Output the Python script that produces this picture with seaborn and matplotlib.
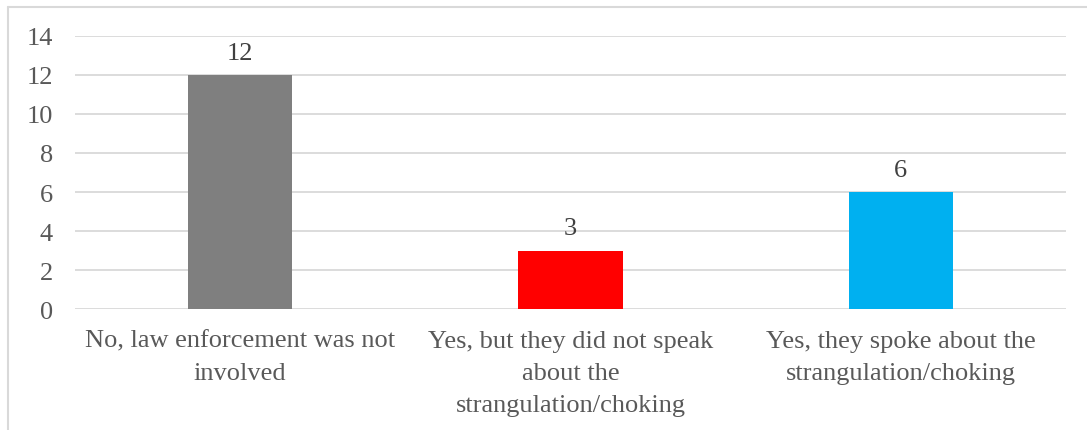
import matplotlib
matplotlib.use("Agg")
import matplotlib.pyplot as plt
import seaborn as sns
import pandas as pd
from matplotlib.lines import Line2D

categories = [
    "No, law enforcement was not\ninvolved",
    "Yes, but they did not speak\nabout the\nstrangulation/choking",
    "Yes, they spoke about the\nstrangulation/choking",
]
counts = [12, 3, 6]
colors = ["#7f7f7f", "#ff0000", "#00b0f0"]
y_ticks = [0, 2, 4, 6, 8, 10, 12, 14]

sns.set_style("white")
plt.rcParams["font.family"] = ["Liberation Serif", "DejaVu Serif"]

df = pd.DataFrame({"category": categories, "count": counts})

fig = plt.figure(figsize=(10.87, 4.31), dpi=100)
ax = fig.add_axes([0.069, 0.2807, 0.9117, 0.6335])

sns.barplot(data=df, x="category", y="count", hue="category",
            palette=colors, width=0.315, legend=False, ax=ax,
            saturation=1, edgecolor="none")

ax.set_ylim(0, 14)
ax.set_yticks(y_ticks)
ax.set_xlim(-0.5, 2.5)
ax.set_xticks(range(len(categories)))
ax.set_xticklabels(categories, linespacing=1.6)
ax.yaxis.grid(True, color="#d9d9d9", linewidth=1.3)
ax.set_axisbelow(True)
for s in ax.spines.values():
    s.set_visible(False)
ax.tick_params(axis="both", length=0, labelsize=19, colors="#595959")
ax.tick_params(axis="y", pad=16)
ax.tick_params(axis="x", pad=15)
ax.set_xlabel("")
ax.set_ylabel("")

for i, v in enumerate(counts):
    ax.annotate(str(v), (i, v), xytext=(0, 8), textcoords="offset points",
                ha="center", va="bottom", fontsize=19, color="#404040")

# chart frame on top and left edges
fig.add_artist(Line2D([8 / 1087, 1], [1 - 8 / 431, 1 - 8 / 431],
                      transform=fig.transFigure, color="#d9d9d9", lw=1.5))
fig.add_artist(Line2D([8 / 1087, 8 / 1087], [0, 1 - 8 / 431],
                      transform=fig.transFigure, color="#d9d9d9", lw=1.5))

fig.savefig("out.png", dpi=100)
